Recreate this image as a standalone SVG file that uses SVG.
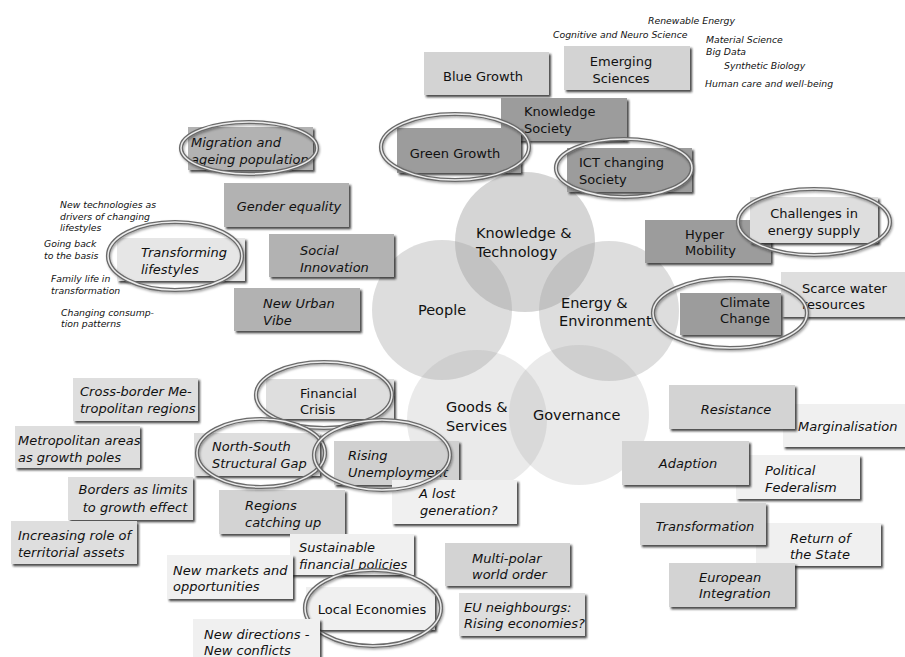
<svg xmlns="http://www.w3.org/2000/svg" width="905" height="657" viewBox="0 0 905 657">
<defs>
<filter id="sh" x="-5%" y="-10%" width="115%" height="135%">
<feDropShadow dx="2" dy="2.2" stdDeviation="1.1" flood-color="#1a1a1a" flood-opacity="0.8"/>
</filter>
<filter id="rs" x="-10%" y="-10%" width="125%" height="130%">
<feDropShadow dx="1" dy="1.5" stdDeviation="1" flood-color="#000" flood-opacity="0.35"/>
</filter>
</defs>
<style>
text{font-family:"DejaVu Sans","Liberation Sans",sans-serif;font-size:13px;fill:#111}
.i{font-style:italic}
.c{text-anchor:middle}
.s{font-size:9.3px;font-style:italic}
.big{font-size:14.5px}
.note{filter:url(#sh)}
.d1{fill:#9c9c9c}
.d2{fill:#b2b2b2}
.d3{fill:#d3d3d3}
.d4{fill:#dedede}
.d5{fill:#f0f0f0}
.ro{fill:none;stroke:#6a6a6a;stroke-width:4.2}
.ri{fill:none;stroke:#ececec;stroke-width:1.5}
.circ{fill:#a0a0a0}
</style>
<rect width="905" height="657" fill="#fff"/>

<g id="circles">
<g id="people"><circle class="circ" cx="442" cy="310" r="70" fill-opacity="0.36"/></g>
<g id="knowledge"><circle class="circ" cx="525" cy="242" r="70" fill-opacity="0.44"/></g>
<g id="energy"><circle class="circ" cx="609" cy="311" r="70" fill-opacity="0.36"/></g>
<g id="goods"><circle class="circ" cx="477" cy="420" r="70" fill-opacity="0.22"/></g>
<g id="governance"><circle class="circ" cx="579" cy="415" r="70" fill-opacity="0.22"/></g>
</g>
<g id="circle-labels">
<text class="big" x="476" y="238">Knowledge &amp;</text>
<text class="big" x="476" y="257">Technology</text>
<text class="big c" x="442" y="315">People</text>
<text class="big" x="561" y="308">Energy &amp;</text>
<text class="big" x="559" y="326">Environment</text>
<text class="big" x="446" y="412">Goods &amp;</text>
<text class="big" x="446" y="431">Services</text>
<text class="big" x="533" y="420">Governance</text>
</g>

<g id="connectors"/>

<g id="small-texts">
<text class="s" x="648" y="23.5">Renewable Energy</text>
<text class="s" x="553" y="37.5">Cognitive and Neuro Science</text>
<text class="s" x="706" y="42.5">Material Science</text>
<text class="s" x="706" y="54.5">Big Data</text>
<text class="s" x="724" y="68.5">Synthetic Biology</text>
<text class="s" x="705" y="86.5">Human care and well-being</text>
<text class="s" x="60" y="207.5">New technologies as</text>
<text class="s" x="60" y="219.5">drivers of changing</text>
<text class="s" x="60" y="230.5">lifestyles</text>
<text class="s" x="44" y="246.5">Going back</text>
<text class="s" x="44" y="258.5">to the basis</text>
<text class="s" x="51" y="281.5">Family life in</text>
<text class="s" x="51" y="293.5">transformation</text>
<text class="s" x="61" y="315.5">Changing consump-</text>
<text class="s" x="61" y="326.5">tion patterns</text>
</g>

<g id="blue-growth"><rect class="note d3" x="424" y="52" width="125" height="43"/><text class="c" x="483" y="81">Blue Growth</text></g>
<g id="emerging-sciences"><rect class="note d3" x="564" y="46" width="126" height="44"/><text class="c" x="621" y="66">Emerging</text><text class="c" x="621" y="83">Sciences</text></g>
<g id="knowledge-society"><rect class="note d1" x="501" y="98" width="126" height="43"/><text x="524" y="116">Knowledge</text><text x="524" y="133">Society</text></g>
<g id="green-growth"><rect class="note d1" x="397" y="128" width="124" height="45"/><text class="c" x="455" y="158">Green Growth</text><g filter="url(#rs)"><ellipse class="ro" cx="455" cy="147" rx="74" ry="33"/><ellipse class="ri" cx="455" cy="147" rx="74" ry="33"/></g></g>
<g id="ict-society"><rect class="note d1" x="567" y="148" width="125" height="44"/><text x="579" y="167">ICT changing</text><text x="579" y="184">Society</text><g filter="url(#rs)"><ellipse class="ro" cx="624" cy="168" rx="68" ry="29"/><ellipse class="ri" cx="624" cy="168" rx="68" ry="29"/></g></g>
<g id="migration"><rect class="note d2" x="188" y="127" width="125" height="43"/><text class="i" x="191" y="147">Migration and</text><text class="i" x="191" y="164">ageing population</text><g filter="url(#rs)"><ellipse class="ro" cx="249" cy="148" rx="68" ry="26"/><ellipse class="ri" cx="249" cy="148" rx="68" ry="26"/></g></g>
<g id="gender-equality"><rect class="note d2" x="224" y="183" width="125" height="44"/><text class="i c" x="289" y="211">Gender equality</text></g>
<g id="social-innovation"><rect class="note d2" x="269" y="234" width="125" height="43"/><text class="i" x="300" y="255">Social</text><text class="i" x="300" y="272">Innovation</text></g>
<g id="new-urban-vibe"><rect class="note d2" x="234" y="288" width="126" height="43"/><text class="i" x="263" y="308">New Urban</text><text class="i" x="263" y="325">Vibe</text></g>
<g id="transforming-lifestyles"><rect class="note" fill="#e6e6e6" x="117" y="238" width="128" height="43"/><text class="i" x="141" y="257">Transforming</text><text class="i" x="141" y="274">lifestyles</text><g filter="url(#rs)"><ellipse class="ro" cx="175" cy="256" rx="67" ry="34"/><ellipse class="ri" cx="175" cy="256" rx="67" ry="34"/></g></g>

<g id="hyper-mobility"><rect class="note d1" x="645" y="220" width="126" height="43"/><text x="685" y="239">Hyper</text><text x="685" y="255">Mobility</text></g>
<g id="energy-supply"><rect class="note d4" x="750" y="197" width="128" height="46"/><text class="c" x="814" y="218">Challenges in</text><text class="c" x="814" y="235">energy supply</text><g filter="url(#rs)"><ellipse class="ro" cx="814" cy="222" rx="76" ry="33"/><ellipse class="ri" cx="814" cy="222" rx="76" ry="33"/></g></g>
<g id="scarce-water"><rect class="note d4" x="781" y="272" width="130" height="45"/><text x="802" y="293">Scarce water</text><text x="802" y="309">resources</text></g>
<g id="climate-change"><rect class="note d1" x="680" y="293" width="101" height="42"/><text class="c" x="745" y="307">Climate</text><text class="c" x="745" y="323">Change</text><g filter="url(#rs)"><ellipse class="ro" cx="730" cy="313" rx="77" ry="35"/><ellipse class="ri" cx="730" cy="313" rx="77" ry="35"/></g></g>

<g id="cross-border"><rect class="note d4" x="73" y="378" width="125" height="43"/><text class="i" x="80" y="396">Cross-border Me-</text><text class="i" x="80" y="413">tropolitan regions</text></g>
<g id="metropolitan-areas"><rect class="note d4" x="15" y="426" width="125" height="42"/><text class="i" x="18" y="445">Metropolitan areas</text><text class="i" x="18" y="462">as growth poles</text></g>
<g id="borders"><rect class="note d4" x="68" y="477" width="125" height="43"/><text class="i c" x="133" y="494">Borders as limits</text><text class="i c" x="135" y="512">to growth effect</text></g>
<g id="territorial-assets"><rect class="note d4" x="11" y="521" width="126" height="43"/><text class="i" x="18" y="540">Increasing role of</text><text class="i" x="18" y="557">territorial assets</text></g>

<g id="regions-catching-up"><rect class="note d3" x="219" y="490" width="126" height="44"/><text class="i" x="245" y="510">Regions</text><text class="i" x="245" y="527">catching up</text></g>
<g id="sustainable-financial"><rect class="note d5" x="290" y="534" width="124" height="41"/><text class="i" x="299" y="552">Sustainable</text><text class="i" x="299" y="569">financial policies</text></g>
<g id="new-markets"><rect class="note d5" x="167" y="555" width="126" height="44"/><text class="i" x="173" y="575">New markets and</text><text class="i" x="173" y="591">opportunities</text></g>
<g id="local-economies"><rect class="note d5" x="306" y="587" width="129" height="43"/><text class="c" x="372" y="614">Local Economies</text><g filter="url(#rs)"><ellipse class="ro" cx="373" cy="608" rx="68" ry="38"/><ellipse class="ri" cx="373" cy="608" rx="68" ry="38"/></g></g>
<g id="new-directions"><rect class="note d5" x="193" y="619" width="127" height="44"/><text class="i" x="204" y="639">New directions -</text><text class="i" x="204" y="655">New conflicts</text></g>
<g id="multi-polar"><rect class="note d3" x="445" y="543" width="125" height="43"/><text class="i" x="472" y="563">Multi-polar</text><text class="i" x="472" y="579">world order</text></g>
<g id="eu-neighbours"><rect class="note d4" x="459" y="593" width="126" height="43"/><text class="i" x="464" y="612">EU neighbourgs:</text><text class="i" x="464" y="628">Rising economies?</text></g>

<g id="financial-crisis"><rect class="note d4" x="266" y="379" width="128" height="40"/><text x="300" y="398">Financial</text><text x="300" y="414">Crisis</text></g>
<g id="north-south"><rect class="note d4" x="194" y="433" width="126" height="43"/><text class="i" x="212" y="451">North-South</text><text class="i" x="212" y="468">Structural Gap</text></g>
<g id="rising-unemployment"><rect class="note" fill="#d0d0d0" x="334" y="441" width="125" height="44"/><text class="i" x="348" y="460">Rising</text><text class="i" x="348" y="477">Unemployment</text></g>
<g id="lost-generation"><rect class="note d5" x="392" y="480" width="125" height="44"/><text class="i" x="419" y="498">A lost</text><text class="i" x="420" y="515">generation?</text></g>
<g id="rings-financial">
<g filter="url(#rs)"><ellipse class="ro" cx="324" cy="395" rx="68" ry="33"/><ellipse class="ri" cx="324" cy="395" rx="68" ry="33"/></g>
<g filter="url(#rs)"><ellipse class="ro" cx="261" cy="453" rx="64" ry="34"/><ellipse class="ri" cx="261" cy="453" rx="64" ry="34"/></g>
<g filter="url(#rs)"><ellipse class="ro" cx="382" cy="455" rx="68" ry="35"/><ellipse class="ri" cx="382" cy="455" rx="68" ry="35"/></g>
</g>

<g id="marginalisation"><rect class="note d5" x="783" y="404" width="126" height="43"/><text class="i" x="798" y="431">Marginalisation</text></g>
<g id="resistance"><rect class="note d3" x="669" y="385" width="126" height="44"/><text class="i c" x="736" y="414">Resistance</text></g>
<g id="political-federalism"><rect class="note d5" x="736" y="455" width="124" height="44"/><text class="i" x="765" y="475">Political</text><text class="i" x="765" y="492">Federalism</text></g>
<g id="adaption"><rect class="note d3" x="622" y="441" width="127" height="44"/><text class="i c" x="688" y="468">Adaption</text></g>
<g id="return-of-state"><rect class="note d5" x="756" y="523" width="125" height="43"/><text class="i" x="790" y="543">Return of</text><text class="i" x="790" y="559">the State</text></g>
<g id="transformation"><rect class="note d3" x="640" y="503" width="126" height="42"/><text class="i c" x="705" y="531">Transformation</text></g>
<g id="european-integration"><rect class="note d3" x="669" y="563" width="126" height="44"/><text class="i" x="699" y="582">European</text><text class="i" x="699" y="598">Integration</text></g>
</svg>
